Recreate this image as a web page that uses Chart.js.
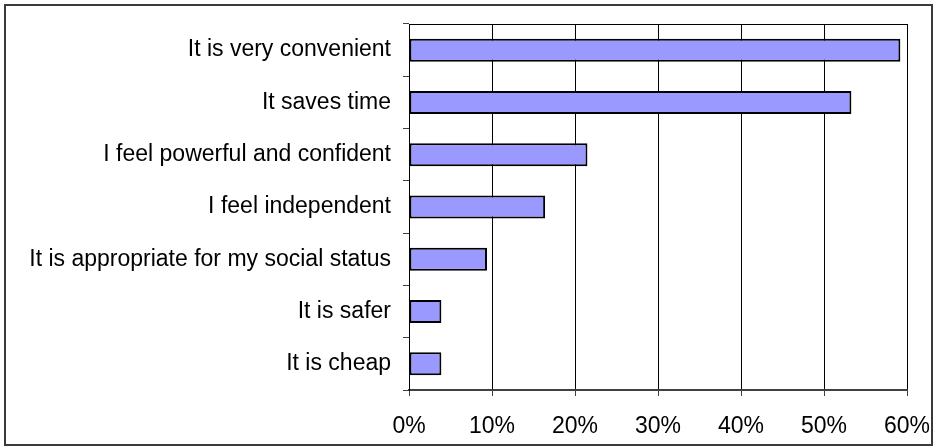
<!DOCTYPE html>
<html>
<head>
<meta charset="utf-8">
<script src="https://cdn.jsdelivr.net/npm/chart.js@4"></script>
<style>
  html, body { margin: 0; padding: 0; background: #fff; }
  #wrap { position: relative; width: 935px; height: 447px; }
</style>
</head>
<body>
<div id="wrap"><canvas id="chart" width="935" height="447"></canvas></div>
<script>
// Reasons given (share of respondents, %)
const categories = [
  'It is very convenient',
  'It saves time',
  'I feel powerful and confident',
  'I feel independent',
  'It is appropriate for my social status',
  'It is safer',
  'It is cheap'
];
const shares = [59.2, 53.3, 21.5, 16.4, 9.4, 3.9, 3.9];
const axisTicks = [0, 10, 20, 30, 40, 50, 60];

// Frame around the whole figure and the top edge of the plot area
const framePlugin = {
  id: 'frame',
  beforeDraw(chart) {
    const ctx = chart.ctx;
    ctx.save();
    ctx.fillStyle = '#fff';
    ctx.fillRect(0, 0, chart.width, chart.height);
    ctx.restore();
  },
  afterDraw(chart) {
    const ctx = chart.ctx;
    const a = chart.chartArea;
    ctx.save();
    ctx.strokeStyle = '#3a3a3a';
    ctx.lineWidth = 2;
    ctx.strokeRect(5, 5, chart.width - 8, chart.height - 7);
    ctx.strokeStyle = '#000';
    ctx.lineWidth = 1;
    ctx.beginPath();
    ctx.moveTo(a.left, Math.round(a.top) + 0.5);
    ctx.lineTo(a.right, Math.round(a.top) + 0.5);
    ctx.stroke();
    ctx.restore();
  }
};

const font = { family: '"Liberation Sans", Arial, sans-serif', size: 23 };

new Chart(document.getElementById('chart'), {
  type: 'bar',
  data: {
    labels: categories,
    datasets: [{
      data: shares,
      backgroundColor: '#9999ff',
      borderColor: '#000',
      borderWidth: 2,
      borderSkipped: false,
      categoryPercentage: 1,
      barPercentage: 0.44
    }]
  },
  options: {
    indexAxis: 'y',
    responsive: false,
    animation: false,
    layout: { padding: { left: 0, top: 24, right: 28, bottom: 0 } },
    plugins: {
      legend: { display: false },
      tooltip: { enabled: false }
    },
    scales: {
      x: {
        min: axisTicks[0],
        max: axisTicks[axisTicks.length - 1],
        afterBuildTicks(scale) { scale.ticks = axisTicks.map(v => ({ value: v })); },
        afterFit(scale) {
          scale.height = 57;
          scale.paddingLeft = 0;
          scale.paddingRight = 0;
        },
        border: { display: true, color: '#404040', width: 2 },
        grid: { color: '#000', lineWidth: 1, tickLength: 6, tickColor: '#404040' },
        ticks: {
          color: '#000',
          font: font,
          padding: 17,
          maxRotation: 0,
          callback: v => v + '%'
        }
      },
      y: {
        afterFit(scale) {
          scale.width = 409;
          scale.paddingTop = 0;
          scale.paddingBottom = 0;
        },
        border: { display: true, color: '#000', width: 1 },
        grid: { drawOnChartArea: false, tickLength: 6, tickColor: '#404040', lineWidth: 1 },
        ticks: { color: '#000', font: font, padding: 12, autoSkip: false }
      }
    }
  },
  plugins: [framePlugin]
});
</script>
</body>
</html>
